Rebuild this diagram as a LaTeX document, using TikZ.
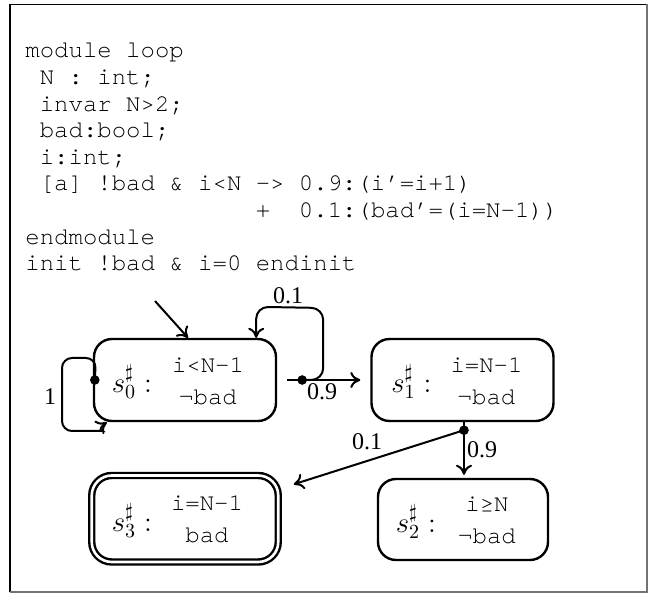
\documentclass[tikz,border=0pt]{standalone}
\usepackage{fontspec}
\setmainfont{Liberation Serif}
\setmonofont{texgyrecursor-regular.otf}
\usetikzlibrary{arrows.meta,calc}

\begin{document}
\begin{tikzpicture}[x=0.5pt,y=-0.5pt,
  state/.style={draw, line width=1.2pt, rounded corners=9pt,
    minimum width=91pt, minimum height=41pt, inner sep=0pt},
  codeline/.style={anchor=base west, inner sep=0pt,
    font=\ttfamily\fontsize{12}{16}\selectfont},
  cond/.style={inner sep=0pt, align=center,
    font=\ttfamily\fontsize{12}{16}\selectfont},
  stname/.style={inner sep=0pt, font=\fontsize{14}{16}\selectfont},
  prob/.style={inner sep=0pt, font=\fontsize{12}{14}\selectfont},
  edge/.style={line width=1pt},
  arr/.style={line width=1pt, -{To[length=5pt,width=8pt]}},
  dot/.style={fill=black}
]
\useasboundingbox (0,0) rectangle (654,593);

% outer frame
\draw[line width=0.6pt] (10,591.5) -- (10,4.5) -- (646.5,4.5);
\draw[line width=1pt, black!55] (646.5,4.5) -- (646.5,591.5) -- (10,591.5);

% PRISM-style module source
\node[codeline] (m1) at (25,58)      {module loop};
\node[codeline] (m2) at (39.4,84.6)  {N : int;};
\node[codeline] (m3) at (39.4,111.2) {invar N>2;};
\node[codeline] (m4) at (39.4,137.8) {bad:bool;};
\node[codeline] (m5) at (39.4,164.4) {i:int;};
\node[codeline] (m6) at (39.4,191)   {[a] !bad \& i<N -> 0.9:(i’=i+1)};
\node[codeline] (m7) at (255.4,217.6) {+\ \ 0.1:(bad’=(i=N-1))};
\node[codeline] (m8) at (25,244.2)   {endmodule};
\node[codeline] (m9) at (25,270.8)   {init !bad \& i=0 endinit};

% abstract states
\node[state] (s0) at (185,380) {};
\node[state] (s1) at (462.5,380) {};
\node[state, minimum width=85pt, minimum height=40.5pt] (s2) at (463,519.5) {};
\node[state, double, double distance=1.3pt, rounded corners=10pt,
      minimum width=93.25pt, minimum height=43.25pt] (s3) at (185,518.75) {};

\node[stname] (n0) at ($(s0)+(-53,2)$) {$s^{\sharp}_{0}:$};
\node[cond]   (c0) at ($(s0)+(23,1)$)  {i<N-1\\¬bad};
\node[stname] (n1) at ($(s1)+(-51,2)$) {$s^{\sharp}_{1}:$};
\node[cond]   (c1) at ($(s1)+(24,1)$)  {i=N-1\\¬bad};
\node[stname] (n2) at ($(s2)+(-47,2)$) {$s^{\sharp}_{2}:$};
\node[cond]   (c2) at ($(s2)+(24,1)$)  {i≥N\\¬bad};
\node[stname] (n3) at ($(s3)+(-53,2)$) {$s^{\sharp}_{3}:$};
\node[cond]   (c3) at ($(s3)+(22,1)$)  {i=N-1\\bad};

% initial arrow
\coordinate (init) at (155,301);
\draw[arr] (init) -- ($(s0.north)+(3,0)$);

% self-loop on s0 with probability 1
\coordinate (d0) at ($(s0.west)+(2,0)$);
\draw[arr, rounded corners=5pt] (d0) -- (96,358) -- (62,358) -- (62,431) -- (92,431)
  to[out=0,in=-145] ($(s0.south west)+(14,0)$);
\fill[dot] (d0) circle[radius=2.4pt];
\node[prob] (p1) at (50,397) {1};

% action a from s0
\coordinate (d1) at ($(s0.east)+(25,0)$);
\draw[edge, shorten <=5pt] (s0.east) -- (d1);
\draw[arr, shorten >=5pt] (d1) -- (s1.west);
\draw[arr, rounded corners=6pt] (d1) -- ++(21,0) -- ++(0,-72)
  -- ($(s0.north east)+(-21,-31)$) -- ($(s0.north east)+(-21,0)$);
\fill[dot] (d1) circle[radius=2.4pt];
\node[prob] (p2) at (288,296) {0.1};
\node[prob] (p3) at (322,392) {0.9};

% action a from s1
\coordinate (d2) at ($(s1.south)+(1.5,8)$);
\draw[edge] ($(s1.south)+(1.5,0)$) -- (d2);
\draw[arr, shorten >=1.5pt] (d2) -- (d2 |- s2.north);
\draw[arr, shorten >=7.5pt] (d2) -- (s3);
\fill[dot] (d2) circle[radius=2.4pt];
\node[prob] (p4) at (482,450) {0.9};
\node[prob] (p5) at (367,442) {0.1};
\end{tikzpicture}
\end{document}
